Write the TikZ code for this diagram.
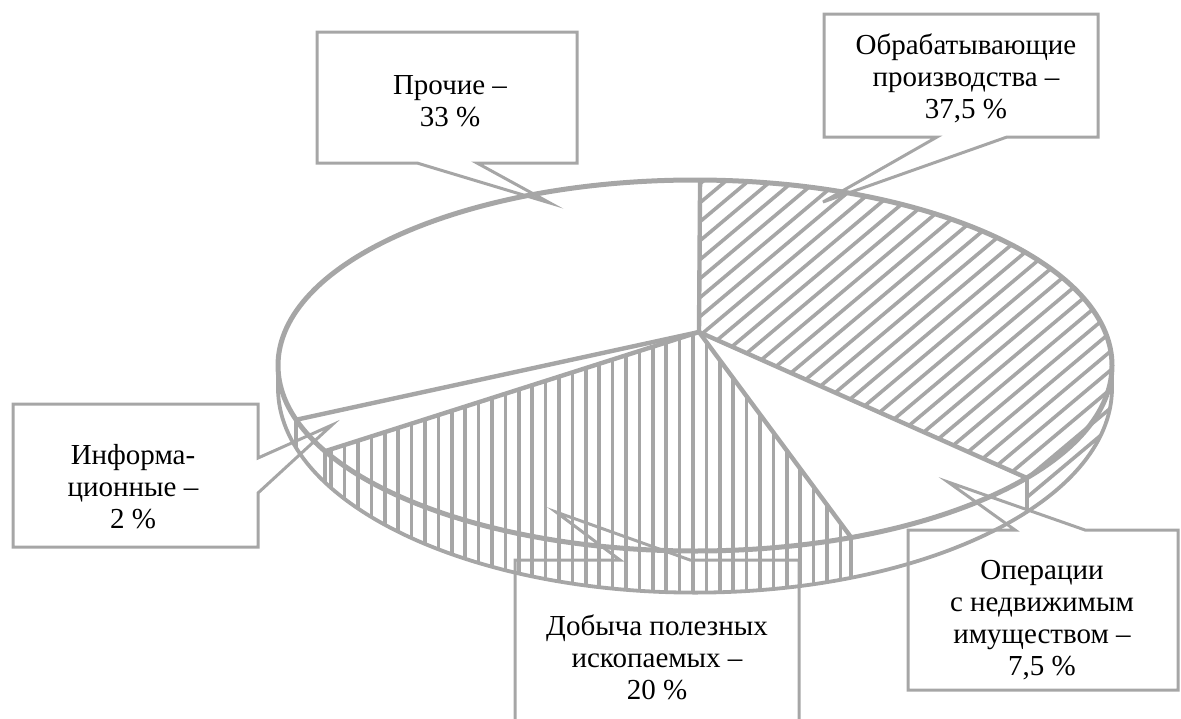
\documentclass[tikz,border=0pt]{standalone}
\usepackage{fontspec}
\setmainfont{Liberation Serif}
\begin{document}
\begin{tikzpicture}[x=1pt,y=1pt]
\definecolor{piegrey}{HTML}{A6A6A6}
\tikzset{
  rim/.style={draw=piegrey, line width=5pt},
  radial/.style={draw=piegrey, line width=4.4pt},
  sideedge/.style={draw=piegrey, line width=3.8pt},
  hatchline/.style={draw=piegrey, line width=3.6pt},
  callout/.style={draw=piegrey, line width=3pt, line join=miter},
  lbl/.style={align=center, font=\fontsize{29}{32}\selectfont, inner sep=0pt, text=black},
  topface/.style={x radius=417, y radius=185.5},
  bottomedge/.style={x radius=417, y radius=204.6},
}
\useasboundingbox (0,0) rectangle (1181,-718);

% centres of the top face, the bottom edge and the pie apex
\coordinate (T) at (695,-365.5);
\coordinate (B) at (695,-388);
\coordinate (O) at (699,-332);

% slice boundaries (parametric angles on the ellipses)
\path (T) ++(89.3:417 and 185.5)   coordinate (t0);
\path (T) ++(-37.3:417 and 185.5)  coordinate (t1);
\path (T) ++(-68:417 and 185.5)    coordinate (t2);
\path (T) ++(-152.5:417 and 185.5) coordinate (t3);
\path (T) ++(-163:417 and 185.5)   coordinate (t4);
\path (T) ++(0:417 and 185.5)      coordinate (tR);
\path (T) ++(-180:417 and 185.5)   coordinate (tL);
\path (B) ++(-37.3:417 and 204.6)  coordinate (b1);
\path (B) ++(-68:417 and 204.6)    coordinate (b2);
\path (B) ++(-152.5:417 and 204.6) coordinate (b3);
\path (B) ++(-163:417 and 204.6)   coordinate (b4);
\path (B) ++(0:417 and 204.6)      coordinate (bR);
\path (B) ++(-180:417 and 204.6)   coordinate (bL);

% manufacturing: diagonal hatching on top face
\begin{scope}
  \clip (O) -- (t0) arc[start angle=89.3, end angle=-37.3, topface] -- cycle;
  \foreach \c in {180.1,202.7,...,1160}
    \draw[hatchline] (\c,-620) -- ++(40:720);
\end{scope}
% manufacturing: diagonal hatching on side
\begin{scope}
  \clip (tR) arc[start angle=0, end angle=-37.3, topface]
        -- (b1) arc[start angle=-37.3, end angle=0, bottomedge] -- cycle;
  \foreach \c in {180.1,202.7,...,1160}
    \draw[hatchline] (\c,-620) -- ++(40:720);
\end{scope}
% mining: vertical hatching on top face
\begin{scope}
  \clip (O) -- (t2) arc[start angle=-68, end angle=-152.5, topface] -- cycle;
  \foreach \c in {291,304.4,...,870}
    \draw[hatchline] (\c,-300) -- (\c,-620);
\end{scope}
% mining: vertical hatching on side
\begin{scope}
  \clip (t2) arc[start angle=-68, end angle=-152.5, topface]
        -- (b3) arc[start angle=-152.5, end angle=-68, bottomedge] -- cycle;
  \foreach \c in {291,304.4,...,870}
    \draw[hatchline] (\c,-300) -- (\c,-620);
\end{scope}

% side outline
\draw[sideedge] (bR) arc[start angle=0, end angle=-180, bottomedge];
\draw[sideedge] (tR) -- (bR);
\draw[sideedge] (tL) -- (bL);
\draw[sideedge] (t1) -- (b1);
\draw[sideedge] (t2) -- (b2);
\draw[sideedge] (t3) -- (b3);
\draw[sideedge] (t4) -- (b4);

% top face outline and slice borders
\draw[rim] (T) ellipse[topface];
\foreach \p in {t0,t1,t2,t3,t4}
  \draw[radial] (O) -- (\p);

% labels
\node[lbl] (prochie) at (450,-101) {Прочие –\\33 \%};
\node[lbl] (obrab) at (966,-78) {Обрабатывающие\\производства –\\37,5 \%};
\node[lbl] (info) at (133,-487) {Информа-\\ционные –\\2 \%};
\node[lbl] (oper) at (1042,-620) {Операции\\с недвижимым\\имуществом –\\7,5 \%};
\node[lbl] (dob) at (657,-657) {Добыча полезных\\ископаемых –\\20 \%};

% callout frames with pointers
\draw[callout] (317,-32) -- (577,-32) -- (577,-163) -- (477,-163) -- (550,-203)
  -- (417,-163) -- (317,-163) -- cycle;
\draw[callout] (824,-14) -- (1098,-14) -- (1098,-137) -- (1007,-137) -- (823,-202)
  -- (937,-137) -- (824,-137) -- cycle;
\draw[callout] (13,-404) -- (258,-404) -- (258,-458) -- (332,-425) -- (258,-493)
  -- (258,-547) -- (13,-547) -- cycle;
\draw[callout] (908,-530) -- (1015,-530) -- (948,-482) -- (1085,-530) -- (1178,-530)
  -- (1178,-690) -- (908,-690) -- cycle;
\draw[callout] (515,-720) -- (515,-560) -- (620,-560) -- (556,-512) -- (690,-560)
  -- (799,-560) -- (799,-720);
\end{tikzpicture}
\end{document}
